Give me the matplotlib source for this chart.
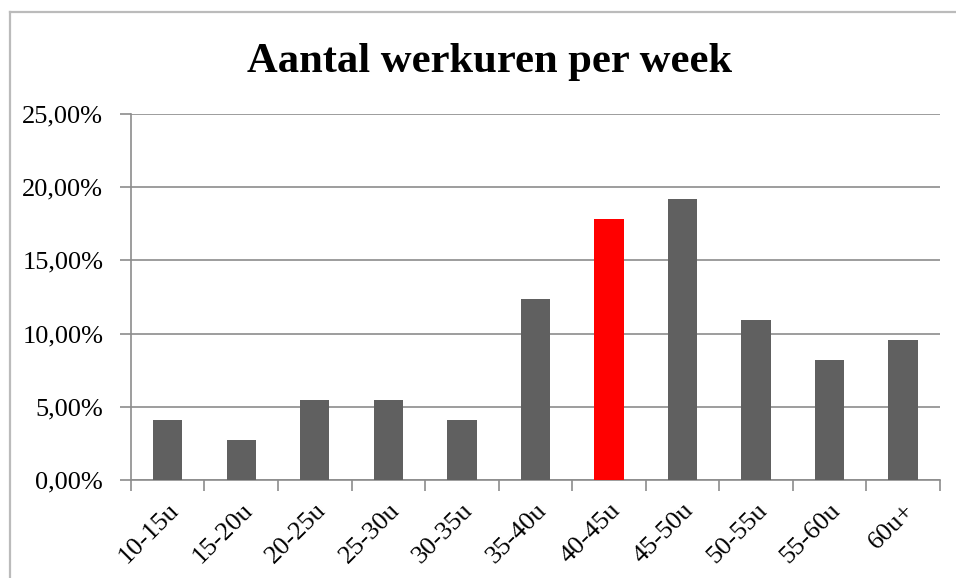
import numpy as np, matplotlib
matplotlib.use("Agg")
import matplotlib.pyplot as plt
from matplotlib.ticker import FuncFormatter, FixedLocator

plt.rcParams.update({"font.family": "Liberation Serif", "font.size": 19})

# data
categories = ["10-15u", "15-20u", "20-25u", "25-30u", "30-35u", "35-40u",
              "40-45u", "45-50u", "50-55u", "55-60u", "60u+"]
shares = [4.11, 2.74, 5.48, 5.48, 4.11, 12.33, 17.81, 19.18, 10.96, 8.22, 9.59]
highlight = "40-45u"

GREY, RED, AXIS = "#606060", "#ff0000", "#8c8c8c"

fig = plt.figure(figsize=(9.56, 5.78), dpi=100)
ax = fig.add_axes([0.137, 0.1696, 0.846, 0.6332])

x = np.arange(len(categories))
cols = [RED if c == highlight else GREY for c in categories]
ax.bar(x, shares, width=0.4, color=cols, zorder=3)

ax.set_xlim(-0.5, len(categories) - 0.5)
ax.set_ylim(0, 25)
ax.set_yticks(np.arange(0, 26, 5))
ax.yaxis.set_major_formatter(FuncFormatter(lambda v, p: f"{v:.2f}%".replace(".", ",")))
ax.yaxis.grid(True, color=AXIS, lw=1.2, zorder=0)
ax.tick_params(axis="y", length=8, width=1.2, color=AXIS, pad=12)

# category ticks sit on the boundaries, labels at the centres
ax.xaxis.set_major_locator(FixedLocator(np.arange(-0.5, len(categories), 1)))
ax.xaxis.set_major_formatter(plt.NullFormatter())
ax.xaxis.set_minor_locator(FixedLocator(x))
ax.set_xticklabels(categories, minor=True, rotation=45, ha="right", rotation_mode="anchor")
ax.tick_params(axis="x", which="major", length=8, width=1.2, color=AXIS)
ax.tick_params(axis="x", which="minor", length=0, pad=14)

for s in ["top", "right"]: ax.spines[s].set_visible(False)
for s in ["left", "bottom"]:
    ax.spines[s].set_color(AXIS); ax.spines[s].set_linewidth(1.2)

fig.text(0.5125, 1 - 72/578, "Aantal werkuren per week", ha="center", va="baseline",
         fontsize=30.7, fontweight="bold")

# outer chart frame (only top and left visible in the crop)
fig.add_artist(plt.Line2D([9.5/956, 9.5/956], [0, 1 - 11.5/578], color="#bbbbbb", lw=1.6,
                          transform=fig.transFigure))
fig.add_artist(plt.Line2D([9.5/956, 1], [1 - 11.5/578, 1 - 11.5/578], color="#bbbbbb", lw=1.6,
                          transform=fig.transFigure))

fig.savefig("out.png", dpi=100, facecolor="white")
